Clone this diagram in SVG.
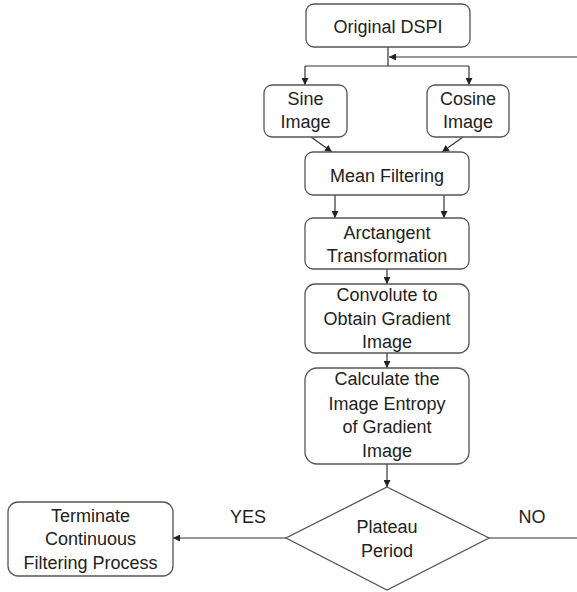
<svg xmlns="http://www.w3.org/2000/svg" width="577" height="592" viewBox="0 0 577 592">
  <style>
    .box { fill: #ffffff; stroke: #555555; stroke-width: 1.3; }
    .txt { font-family: "Liberation Sans", Arial, sans-serif; font-size: 18px; fill: #222222; text-anchor: middle; }
    .wire { fill: none; stroke: #333333; stroke-width: 1.2; }
    .arrow { marker-end: url(#head); }
  </style>
  <defs>
    <marker id="head" viewBox="0 0 10 10" refX="10" refY="5" markerWidth="7" markerHeight="7" markerUnits="userSpaceOnUse" orient="auto">
      <path d="M0,0 L10,5 L0,10 z" fill="#222222"/>
    </marker>
  </defs>
  <rect width="577" height="592" fill="#ffffff"/>

  <g id="connectors">
    <!-- split below the input -->
    <path class="wire" d="M388,47 V66 M305,66 H469"/>
    <path class="wire arrow" d="M305,66 V85"/>
    <path class="wire arrow" d="M469,66 V85"/>
    <!-- feedback loop entering from the right -->
    <path class="wire arrow" d="M577,57 H389"/>
    <!-- sine / cosine into mean filtering -->
    <path class="wire arrow" d="M311,137 L332,152"/>
    <path class="wire arrow" d="M463,137 L442,152"/>
    <!-- mean filtering into arctangent -->
    <path class="wire arrow" d="M335,195 V218"/>
    <path class="wire arrow" d="M444,195 V218"/>
    <!-- vertical chain -->
    <path class="wire arrow" d="M387,269 V284"/>
    <path class="wire arrow" d="M387,353 V368"/>
    <path class="wire arrow" d="M387,464 V487"/>
    <!-- decision outputs -->
    <path class="wire arrow" d="M286,538 H173"/>
    <path class="wire" d="M489,538 H577"/>
  </g>

  <g id="original-dspi">
    <rect class="box" x="306" y="4" width="164" height="43" rx="8"/>
    <text class="txt" x="388" y="33">Original DSPI</text>
  </g>

  <g id="sine-image">
    <rect class="box" x="264" y="85" width="83" height="52" rx="8"/>
    <text class="txt" x="305.5" y="105">Sine</text>
    <text class="txt" x="305.5" y="128">Image</text>
  </g>

  <g id="cosine-image">
    <rect class="box" x="427" y="85" width="82" height="52" rx="8"/>
    <text class="txt" x="468" y="105">Cosine</text>
    <text class="txt" x="468" y="128">Image</text>
  </g>

  <g id="mean-filtering">
    <rect class="box" x="305" y="152" width="164" height="43" rx="8"/>
    <text class="txt" x="387" y="182">Mean Filtering</text>
  </g>

  <g id="arctangent">
    <rect class="box" x="305" y="218" width="164" height="51" rx="8"/>
    <text class="txt" x="387" y="239">Arctangent</text>
    <text class="txt" x="387" y="262">Transformation</text>
  </g>

  <g id="convolute">
    <rect class="box" x="305" y="284" width="164" height="69" rx="10"/>
    <text class="txt" x="387" y="301">Convolute to</text>
    <text class="txt" x="387" y="325">Obtain Gradient</text>
    <text class="txt" x="387" y="348">Image</text>
  </g>

  <g id="entropy">
    <rect class="box" x="305" y="368" width="164" height="96" rx="12"/>
    <text class="txt" x="387" y="385">Calculate the</text>
    <text class="txt" x="387" y="410">Image Entropy</text>
    <text class="txt" x="387" y="433">of Gradient</text>
    <text class="txt" x="387" y="457">Image</text>
  </g>

  <g id="plateau">
    <polygon class="box" points="387,487 489,538 387,590 286,538"/>
    <text class="txt" x="387" y="533">Plateau</text>
    <text class="txt" x="387" y="557">Period</text>
  </g>

  <g id="terminate">
    <rect class="box" x="8" y="502" width="165" height="74" rx="10"/>
    <text class="txt" x="90.5" y="522">Terminate</text>
    <text class="txt" x="90.5" y="545">Continuous</text>
    <text class="txt" x="90.5" y="569">Filtering Process</text>
  </g>

  <g id="labels">
    <text class="txt" x="248" y="523">YES</text>
    <text class="txt" x="532" y="523">NO</text>
  </g>
</svg>
